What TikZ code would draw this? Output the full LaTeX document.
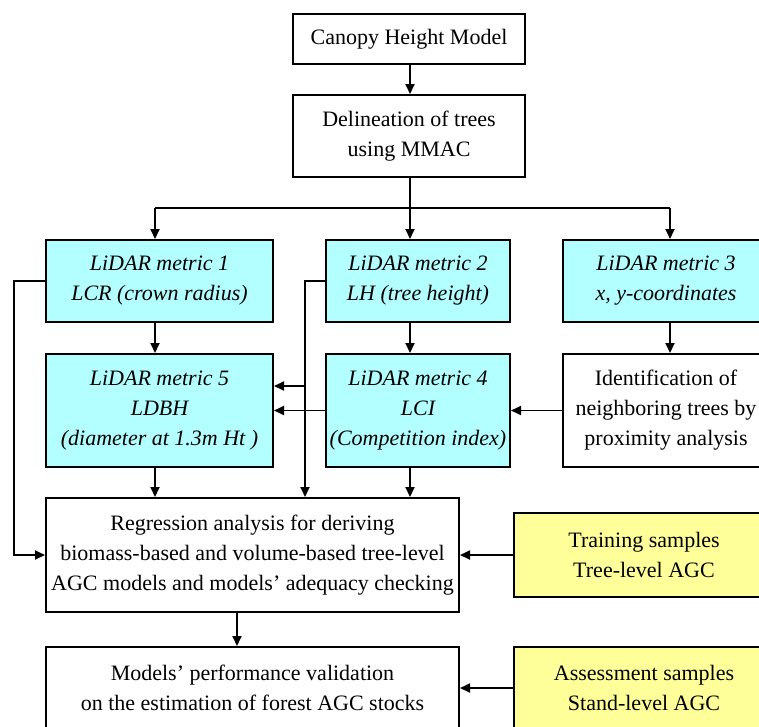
\documentclass[tikz,border=0pt]{standalone}
\usepackage{fontspec}
\setmainfont{Liberation Serif}
\usetikzlibrary{arrows.meta}
\definecolor{cyanbox}{HTML}{B3FFFF}
\definecolor{yellowbox}{HTML}{FFFF99}
\begin{document}
\begin{tikzpicture}[x=1pt,y=-1pt,
 box/.style={draw=black,line width=2pt,fill=white,inner sep=0pt,align=center,font=\fontsize{22}{30}\selectfont},
 metric/.style={box,fill=cyanbox,font=\fontsize{22}{30}\selectfont\itshape},
 sample/.style={box,fill=yellowbox},
 conn/.style={line width=1.8pt,-{Triangle[length=10pt,width=9pt]}},
 plain/.style={line width=1.8pt}]
\useasboundingbox (0,0) rectangle (759,726);
\clip (0,0) rectangle (759,726);

\node[box,minimum width=232pt,minimum height=50pt] (chm) at (409,39) {Canopy Height Model};
\node[box,minimum width=232pt,minimum height=82pt] (del) at (409,136) {Delineation of trees\\using MMAC};

\node[metric,minimum width=227pt,minimum height=82pt] (m1) at (159.5,281) {LiDAR metric 1\\LCR (crown radius)};
\node[metric,minimum width=184pt,minimum height=82pt] (m2) at (418,281) {LiDAR metric 2\\LH (tree height)};
\node[metric,minimum width=206pt,minimum height=82pt] (m3) at (666,281) {LiDAR metric 3\\x, y-coordinates};

\node[metric,minimum width=227pt,minimum height=113pt] (m5) at (159.5,410.5) {LiDAR metric 5\\LDBH\\(diameter at 1.3m Ht )};
\node[metric,minimum width=184pt,minimum height=113pt] (m4) at (418,410.5) {LiDAR metric 4\\LCI\\(Competition index)};
\node[box,minimum width=206pt,minimum height=113pt] (id) at (666,410.5) {Identification of\\neighboring trees by\\proximity analysis};

\node[box,minimum width=413pt,minimum height=114pt] (reg) at (252.5,555) {Regression analysis for deriving\\biomass-based and volume-based tree-level\\AGC models and models’ adequacy checking};
\node[sample,minimum width=260pt,minimum height=84pt] (tr) at (644,555) {Training samples\\Tree-level AGC};

\node[box,minimum width=413pt,minimum height=82pt] (val) at (252.5,688) {Models’ performance validation\\on the estimation of forest AGC stocks};
\node[sample,minimum width=260pt,minimum height=82pt] (as) at (644,688) {Assessment samples\\Stand-level AGC};

\coordinate (busL) at (155,208);
\coordinate (busM) at (410,208);
\coordinate (busR) at (670,208);
\coordinate (j1) at (14,281);
\coordinate (j2) at (305,281);
\coordinate (br) at (305,386);
\coordinate (rv) at (237,0);

\draw[conn] (chm.south -| busM) -- (del.north -| busM);
\draw[plain] (del.south -| busM) -- (busM);
\draw[plain] (busL) -- (busR);
\draw[conn] (busL) -- (busL |- m1.north);
\draw[conn] (busM) -- (busM |- m2.north);
\draw[conn] (busR) -- (busR |- m3.north);

\draw[conn] (busL |- m1.south) -- (busL |- m5.north);
\draw[conn] (busM |- m2.south) -- (busM |- m4.north);
\draw[conn] (busR |- m3.south) -- (busR |- id.north);

\draw[conn] (id.west) -- (m4.east);
\draw[conn] (m4.west) -- (m5.east);

\draw[conn] (m2.west) -- (j2) -- (j2 |- reg.north);
\draw[conn] (br) -- (br -| m5.east);
\draw[conn] (m1.west) -- (j1) -- (j1 |- reg.west) -- (reg.west);

\draw[conn] (busL |- m5.south) -- (busL |- reg.north);
\draw[conn] (busM |- m4.south) -- (busM |- reg.north);

\draw[conn] (tr.west) -- (tr.west -| reg.east);
\draw[conn] (rv |- reg.south) -- (rv |- val.north);
\draw[conn] (as.west) -- (as.west -| val.east);
\end{tikzpicture}
\end{document}
